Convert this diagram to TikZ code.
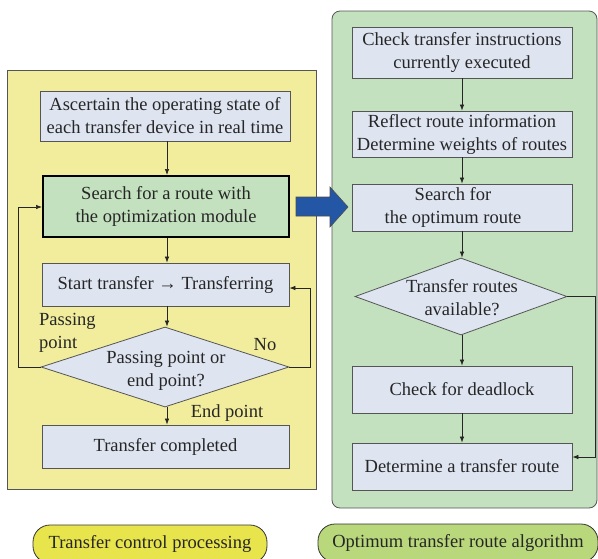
\documentclass[tikz,border=0pt]{standalone}
\usepackage{fontspec}
\setmainfont{Liberation Serif}
\newfontfamily\flowserif{Liberation Serif}
\usetikzlibrary{shapes.geometric,arrows.meta}
\definecolor{panelyellow}{HTML}{F1ED9C}
\definecolor{panelgreen}{HTML}{C3E1BE}
\definecolor{boxblue}{HTML}{DEE5F1}
\definecolor{tagyellow}{HTML}{E8E44C}
\definecolor{taggreen}{HTML}{B9D77B}
\definecolor{bigarrow}{HTML}{2456A6}
\definecolor{edgegray}{HTML}{555555}
\begin{document}
\begin{tikzpicture}[x=1pt,y=-1pt,
  every node/.style={font=\flowserif\fontsize{18.5}{23}\selectfont, text=black!85},
  stepbox/.style={draw=edgegray, line width=0.8pt, fill=boxblue, rectangle,
    align=center, inner sep=0pt},
  decision/.style={draw=edgegray, line width=0.8pt, fill=boxblue, diamond,
    inner sep=0pt},
  flow/.style={line width=0.7pt, draw=black!85, -{Latex[length=6pt,width=4.5pt]}},
  tag/.style={draw=black!80, line width=0.8pt, rounded corners=17pt, inner sep=0pt}
]
\useasboundingbox (0,0) rectangle (598,558);

% background panels
\fill[panelyellow, draw=edgegray, line width=0.8pt] (7,70) rectangle (316,489);
\fill[panelgreen, draw=edgegray, line width=0.8pt, rounded corners=8pt] (332,11) rectangle (597,508);

% transfer control processing
\node[stepbox, minimum width=250, minimum height=50] (a1) at (165,116)
  {Ascertain the operating state of\\each transfer device in real time};
\node[stepbox, fill=panelgreen, draw=black, line width=2pt, minimum width=246, minimum height=61] (a2) at (166,206.5)
  {Search for a route with\\the optimization module};
\node[stepbox, minimum width=247, minimum height=43] (a3) at (165.5,284.5)
  {Start transfer → Transferring};
\node[decision, minimum width=248, minimum height=80] (a4) at (165,367) {};
\node[align=center, inner sep=0pt] (a4t) at (166,371) {Passing point or\\end point?};
\node[stepbox, minimum width=247, minimum height=43] (a5) at (165.5,446.5)
  {Transfer completed};

\coordinate (la) at (18,367);
\coordinate (lb) at (18,207);
\coordinate (ra) at (310,367);
\coordinate (rb) at (310,288);

\draw[flow] (a1.south -| 167,0) -- (a2.north -| 167,0);
\draw[flow] (a2.south -| 167,0) -- (a3.north -| 167,0);
\draw[flow] (a3.south -| 167,0) -- (a4.north -| 167,0);
\draw[flow] (a4.south -| 167,0) -- (a5.north -| 167,0);
\draw[flow] (a4.west) -- (la) -- (lb) -- (lb -| a2.west);
\draw[flow] (a4.east) -- (ra) -- (rb) -- (rb -| a3.east);

\node[align=left, anchor=north west, inner sep=0pt] (lpass) at (39,313) {Passing\\point};
\node[inner sep=0pt] (lno) at (265,345) {No};
\node[inner sep=0pt] (lend) at (227,413) {End point};

% optimum route search
\node[stepbox, minimum width=220, minimum height=51] (b1) at (462,52.5)
  {Check transfer instructions\\currently executed};
\node[stepbox, minimum width=220, minimum height=46] (b2) at (462,134)
  {Reflect route information\\Determine weights of routes};
\node[stepbox, minimum width=220, minimum height=47] (b3) at (462,207.5) {};
\node[align=center, inner sep=0pt] (b3t) at (453,207.5) {Search for\\the optimum route};
\node[decision, minimum width=212, minimum height=77] (b4) at (461,296.5) {};
\node[align=center, inner sep=0pt] (b4t) at (462,298) {Transfer routes\\available?};
\node[stepbox, minimum width=220, minimum height=47] (b5) at (462,389.5)
  {Check for deadlock};
\node[stepbox, minimum width=220, minimum height=47] (b6) at (462,466.5)
  {Determine a transfer route};

\coordinate (rc) at (595,296.5);
\coordinate (rd) at (595,457);

\draw[flow] (b1.south -| 462,0) -- (b2.north -| 462,0);
\draw[flow] (b2.south -| 462,0) -- (b3.north -| 462,0);
\draw[flow] (b3.south -| 462,0) -- (b4.north -| 462,0);
\draw[flow] (b4.south -| 462,0) -- (b5.north -| 462,0);
\draw[flow] (b5.south -| 462,0) -- (b6.north -| 462,0);
\draw[flow] (b4.east) -- (rc) -- (rd) -- (rd -| b6.east);

% hand-over arrow between the two parts
\filldraw[fill=bigarrow, draw=black!70, line width=0.6pt]
  (296,197) -- (330,197) -- (330,187) -- (348,207) -- (330,227) -- (330,216)
  -- (296,216) -- cycle;

% captions
\node[tag, fill=tagyellow, minimum width=234, minimum height=38] (c1) at (150,544)
  {Transfer control processing};
\node[tag, fill=taggreen, minimum width=280, minimum height=38] (c2) at (458,543)
  {Optimum transfer route algorithm};
\end{tikzpicture}
\end{document}
